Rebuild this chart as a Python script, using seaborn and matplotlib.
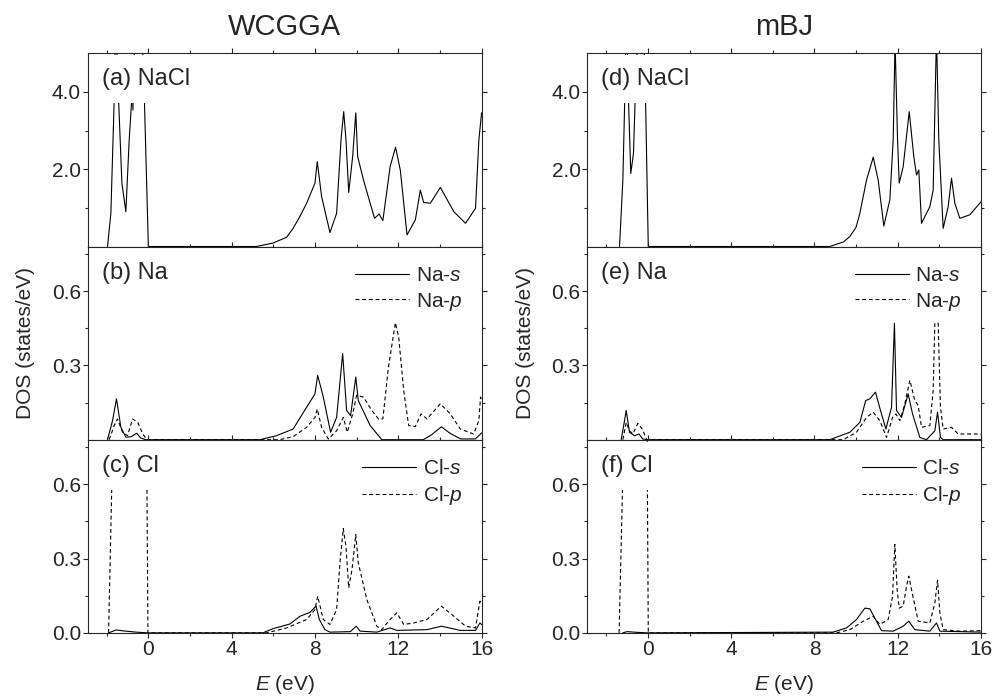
import numpy as np
import matplotlib
matplotlib.use("Agg")
import matplotlib.pyplot as plt
import seaborn as sns

# ---- data (E in eV, DOS in states/eV) ----
# WCGGA
wc_nacl_E = [-1.96, -1.80, -1.64, -1.56, -1.43, -1.27, -1.08, -0.92, -0.80, -0.77, -0.74, -0.71, -0.62, -0.40, -0.19, 0.0,
             5.19, 5.99, 6.64, 6.95, 7.28, 7.6, 8.0, 8.11, 8.32, 8.72, 9.04, 9.25, 9.38, 9.49, 9.62, 9.81, 9.96, 10.05,
             10.33, 10.86, 11.08, 11.26, 11.61, 11.87, 12.10, 12.42, 12.82, 13.06, 13.22, 13.54, 14.02, 14.67, 15.23,
             15.71, 15.87, 16.0]
wc_nacl = [0, 0.86, 3.8, 6.0, 3.8, 1.64, 0.90, 2.76, 3.8, 4.3, 3.53, 4.3, 6.0, 7.0, 3.8, 0,
           0, 0.09, 0.24, 0.47, 0.78, 1.12, 1.64, 2.20, 1.29, 0.36, 0.86, 2.76, 3.49, 2.76, 1.40, 2.33, 3.46, 2.33,
           1.72, 0.73, 0.84, 0.67, 2.07, 2.57, 1.97, 0.30, 0.69, 1.46, 1.14, 1.12, 1.53, 0.90, 0.60,
           0.99, 2.76, 3.46]

wc_nas_E = [-1.96, -1.72, -1.53, -1.32, -1.08, -0.84, -0.56, -0.37, -0.13,
            5.35, 6.15, 6.95, 7.60, 8.0, 8.13, 8.40, 8.75, 9.04, 9.33, 9.52, 9.71, 9.96, 10.08, 10.65, 11.21,
            13.2, 13.6, 14.07, 14.5, 15.0, 15.7, 16.0]
wc_nas = [0, 0.077, 0.165, 0.05, 0.01, 0.012, 0.026, 0.007, 0,
          0, 0.016, 0.043, 0.131, 0.185, 0.26, 0.172, 0.03, 0.09, 0.348, 0.118, 0.097, 0.253, 0.158, 0.057, 0,
          0, 0.02, 0.052, 0.025, 0.003, 0.003, 0.027]

wc_nap_E = [-1.88, -1.64, -1.48, -1.24, -1.0, -0.76, -0.51, -0.27, -0.07,
            6.3, 6.95, 7.60, 8.0, 8.11, 8.32, 8.64, 9.04, 9.36, 9.55, 9.81, 10.0, 10.33, 10.73, 11.05, 11.26,
            11.53, 11.86, 12.02, 12.26, 12.5, 12.82, 13.09, 13.38, 14.02, 14.5, 14.98, 15.62, 15.87, 15.95, 16.0]
wc_nap = [0, 0.057, 0.084, 0.03, 0.016, 0.084, 0.07, 0.023, 0,
          0, 0.012, 0.05, 0.09, 0.124, 0.05, 0.003, 0.036, 0.09, 0.03, 0.104, 0.179, 0.172, 0.118, 0.084, 0.084,
          0.294, 0.472, 0.415, 0.199, 0.057, 0.053, 0.104, 0.084, 0.145, 0.104, 0.043, 0.023, 0.077, 0.172, 0.16]

wc_cls_E = [-1.9, -1.55, -1.2, -0.6, 0.0,
            5.5, 5.99, 6.8, 7.28, 7.76, 8.05, 8.21, 8.48, 8.72, 9.7, 9.98, 10.17, 10.97, 11.61, 11.93,
            13.38, 14.07, 14.98, 15.71, 15.92, 16.0]
wc_cls = [0, 0.012, 0.008, 0.003, 0,
          0, 0.017, 0.036, 0.067, 0.083, 0.108, 0.054, 0.013, 0.003, 0.005, 0.027, 0.007, 0.003, 0.02, 0.01,
          0.013, 0.027, 0.01, 0.01, 0.04, 0.034]

wc_clp_E = [-1.91, -1.65, -1.2, -0.6, -0.1, -0.02,
            5.67, 6.64, 7.6, 8.0, 8.13, 8.4, 8.72, 9.04, 9.2, 9.36, 9.49, 9.62, 9.78, 9.96, 10.08, 10.49,
            10.97, 11.21, 11.53, 11.93, 12.26, 12.74, 13.38, 14.07, 14.67, 15.23, 15.71, 15.92, 16.0]
wc_clp = [0, 1.0, 1.5, 1.5, 1.0, 0,
          0, 0.02, 0.054, 0.094, 0.148, 0.054, 0.034, 0.094, 0.283, 0.421, 0.35, 0.182, 0.256, 0.397, 0.283,
          0.135, 0.027, 0.013, 0.047, 0.081, 0.034, 0.04, 0.054, 0.108, 0.067, 0.027, 0.02, 0.128, 0.12]

# mBJ
mb_nacl_E = [-1.36, -1.20, -1.11, -1.02, -0.93, -0.82, -0.69, -0.61, -0.45, -0.25, -0.11, 0.02,
             8.73, 9.40, 9.70, 10.0, 10.18, 10.50, 10.82, 11.06, 11.33, 11.62, 11.78, 11.87, 11.99, 12.07, 12.26,
             12.55, 12.77, 12.90, 13.01, 13.14, 13.54, 13.70, 13.86, 13.97, 14.18, 14.42, 14.58, 14.74, 14.98,
             15.46, 16.0]
mb_nacl = [0, 1.72, 3.8, 6.0, 3.8, 1.89, 2.41, 3.8, 6.0, 6.5, 3.8, 0,
           0, 0.12, 0.26, 0.5, 0.86, 1.72, 2.31, 1.72, 0.53, 1.21, 2.76, 5.3, 2.76, 1.64, 2.07,
           3.49, 2.33, 1.85, 1.98, 0.6, 1.03, 1.46, 5.5, 2.76, 0.47, 1.03, 1.77, 1.12, 0.73,
           0.82, 1.16]

mb_nas_E = [-1.28, -1.12, -1.04, -0.88, -0.64, -0.43, -0.24, -0.05,
            8.73, 9.70, 10.18, 10.46, 10.66, 10.93, 11.17, 11.43, 11.7, 11.84, 11.94, 12.18, 12.5, 12.71, 13.06,
            13.38, 13.78, 13.91, 14.05, 14.18, 16.0]
mb_nas = [0, 0.077, 0.118, 0.03, 0.016, 0.023, 0.003, 0,
          0, 0.03, 0.07, 0.158, 0.165, 0.192, 0.118, 0.043, 0.131, 0.47, 0.118, 0.09, 0.185, 0.104, 0.009,
          0, 0.036, 0.111, 0.009, 0, 0]

mb_nap_E = [-1.2, -1.04, -0.88, -0.72, -0.48, -0.27, -0.05,
            9.38, 10.02, 10.5, 10.82, 11.14, 11.46, 11.75, 11.91, 12.1, 12.34, 12.58, 12.82, 12.98, 13.14, 13.54,
            13.70, 13.78, 13.94, 14.05, 14.18, 14.58, 14.9, 16.0]
mb_nap = [0, 0.07, 0.036, 0.023, 0.066, 0.043, 0,
          0, 0.03, 0.09, 0.111, 0.077, 0.009, 0.09, 0.104, 0.077, 0.145, 0.24, 0.158, 0.138, 0.05, 0.057,
          0.199, 0.47, 0.47, 0.131, 0.043, 0.05, 0.023, 0.023]

mb_cls_E = [-1.2, -1.0, -0.5, 0.0,
            8.89, 9.54, 10.02, 10.42, 10.66, 10.98, 11.22, 11.78, 12.26, 12.53, 12.82, 13.54, 13.86, 14.02, 16.0]
mb_cls = [0, 0.005, 0.002, 0,
          0.003, 0.02, 0.054, 0.1, 0.097, 0.047, 0.009, 0.007, 0.027, 0.047, 0.013, 0.007, 0.04, 0.007, 0.003]

mb_clp_E = [-1.38, -1.1, -0.7, -0.3, -0.05, 0.02,
            9.05, 9.7, 10.34, 10.82, 11.14, 11.54, 11.75, 11.86, 11.97, 12.07, 12.26, 12.42, 12.53, 12.66,
            12.98, 13.54, 13.78, 13.91, 14.02, 14.18, 14.98, 16.0]
mb_clp = [0, 1.0, 1.5, 1.5, 1.0, 0,
          0, 0.013, 0.047, 0.067, 0.034, 0.054, 0.148, 0.357, 0.175, 0.1, 0.108, 0.188, 0.229, 0.175,
          0.047, 0.04, 0.121, 0.213, 0.081, 0.013, 0.007, 0.009]

methods = ["WCGGA", "mBJ"]
panel_names = [["(a) NaCl", "(b) Na", "(c) Cl"], ["(d) NaCl", "(e) Na", "(f) Cl"]]
legend_labels = [None, ["Na-$s$", "Na-$p$"], ["Cl-$s$", "Cl-$p$"]]

series = [
    [[(wc_nacl_E, wc_nacl)], [(wc_nas_E, wc_nas), (wc_nap_E, wc_nap)], [(wc_cls_E, wc_cls), (wc_clp_E, wc_clp)]],
    [[(mb_nacl_E, mb_nacl)], [(mb_nas_E, mb_nas), (mb_nap_E, mb_nap)], [(mb_cls_E, mb_cls), (mb_clp_E, mb_clp)]],
]

# ---- style ----
sns.set_style("ticks")
plt.rcParams["font.family"] = ["Liberation Sans", "DejaVu Sans"]
plt.rcParams["mathtext.fontset"] = "custom"
plt.rcParams["mathtext.rm"] = "Liberation Sans"
plt.rcParams["mathtext.it"] = "Liberation Sans:italic"
plt.rcParams["axes.linewidth"] = 0.8

fig = plt.figure(figsize=(9.95, 6.97), dpi=100)
gs = fig.add_gridspec(3, 2, left=0.0884, right=0.986, bottom=0.092, top=0.9235, hspace=0, wspace=0.269)

styles = ["-", (0, (3.5, 2.5))]

for col in range(2):
    for row in range(3):
        ax = fig.add_subplot(gs[row, col])
        lines = []
        for k, (E, D) in enumerate(series[col][row]):
            assert len(E) == len(D)
            sns.lineplot(x=E, y=D, ax=ax, color="k", lw=0.8, sort=False, estimator=None,
                         linestyle=styles[k], legend=False)
            lines.append(ax.get_lines()[-1])

        ax.set_xlim(-2.9, 16)
        ax.set_xticks([0, 4, 8, 12, 16])
        ax.set_xticks([-2, 2, 6, 10, 14], minor=True)
        if row == 0:
            ax.set_ylim(0, 5)
            ax.set_yticks([2, 4])
            ax.set_yticks([1, 3], minor=True)
        else:
            ax.set_ylim(0, 0.78)
            ax.set_yticks([0.3, 0.6] if row == 1 else [0.0, 0.3, 0.6])
            ax.set_yticks([0.15, 0.45, 0.75], minor=True)
        ax.yaxis.set_major_formatter(matplotlib.ticker.FormatStrFormatter("%.1f"))

        ax.tick_params(which="both", direction="out", top=True, right=True, labelsize=15, pad=1.5)
        ax.tick_params(which="major", length=3.5, width=0.8)
        ax.tick_params(which="minor", length=2.5, width=0.8)
        if row < 2:
            ax.tick_params(labelbottom=False)
        else:
            ax.set_xlabel("$E$ (eV)", fontsize=15, labelpad=10)
        if row == 1:
            ax.set_ylabel("DOS (states/eV)", fontsize=15, labelpad=12)
        if row == 0:
            ax.set_title(methods[col], fontsize=21, pad=13)

        ax.text(0.035, 0.865, panel_names[col][row], transform=ax.transAxes, fontsize=17,
                va="center", ha="left", zorder=2.2,
                bbox=dict(boxstyle="square,pad=0.55", fc="white", ec="none"))

        if legend_labels[row] is not None:
            ax.legend(lines, legend_labels[row], loc="upper right", bbox_to_anchor=(0.985, 0.97),
                      frameon=False, fontsize=15, handlelength=2.6, handletextpad=0.3,
                      labelspacing=0.28, borderaxespad=0.25)

fig.savefig("out.png", dpi=100)
